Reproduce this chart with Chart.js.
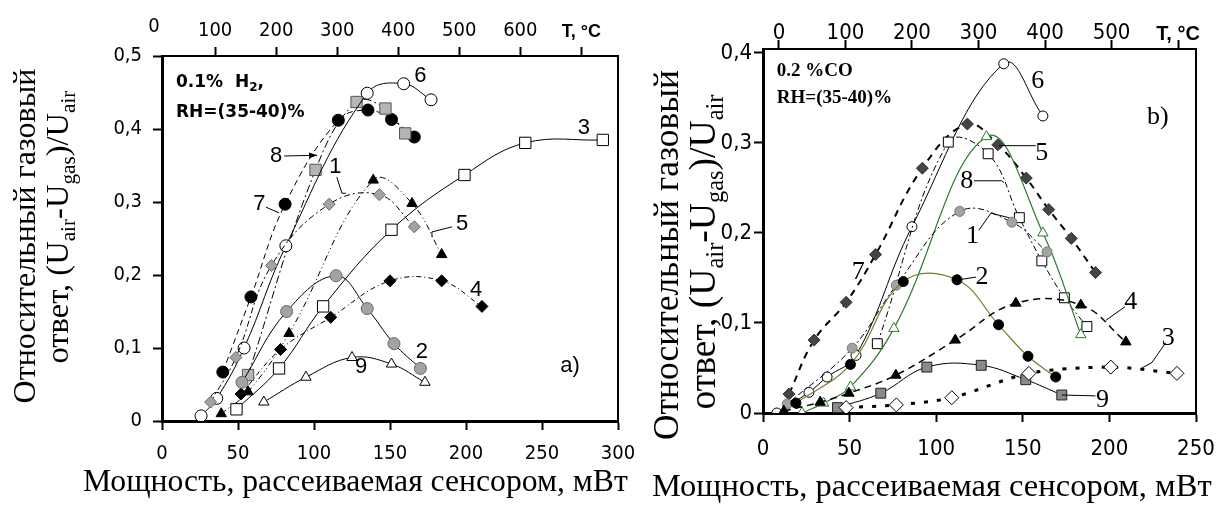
<!DOCTYPE html>
<html>
<head>
<meta charset="utf-8">
<script src="https://cdn.jsdelivr.net/npm/chart.js@4.4.1/dist/chart.umd.min.js"></script>
<style>
  body { margin: 0; background: #fff; width: 1222px; height: 507px; overflow: hidden; position: relative; }
  canvas { position: absolute; top: 0; }
  #panelA { left: 0; }
  #panelB { left: 600px; }
</style>
</head>
<body>
<canvas id="panelA" width="650" height="507"></canvas>
<canvas id="panelB" width="622" height="507"></canvas>
<script>
// ---------- panel a) 0.1% H2 : response vs dissipated power (mW) ----------
const aPowerTicks = [0, 50, 100, 150, 200, 250, 300];
const aRespTicks = [0, 0.1, 0.2, 0.3, 0.4, 0.5];
const aTempTicks = [100, 200, 300, 400, 500, 600, 700];   // 700 slot carries "T, °C"

const aCurve1 = [[32, 0.026], [48.6, 0.087], [72, 0.213], [110, 0.297], [143, 0.31], [166, 0.266]];
const aCurve2 = [[52.6, 0.053], [82, 0.15], [114.5, 0.199], [135, 0.154], [152.6, 0.106], [170, 0.072]];
const aCurve3 = [[49, 0.016], [77, 0.072], [106, 0.157], [151, 0.262], [199, 0.337], [239, 0.381], [290, 0.385]];
const aCurve4 = [[52, 0.037], [78, 0.098], [111, 0.142], [150, 0.192], [184, 0.192], [210.5, 0.157]];
const aCurve5 = [[39, 0.01], [56.6, 0.04], [83.6, 0.12], [139, 0.33], [164.5, 0.298], [184, 0.228]];
const aCurve6 = [[25.7, 0.007], [36, 0.031], [54, 0.1], [81.5, 0.24], [135, 0.449], [159, 0.462], [177, 0.44]];
const aCurve7 = [[40, 0.067], [58.5, 0.17], [81, 0.297], [116, 0.412], [135.5, 0.426], [151, 0.413], [166, 0.389]];
const aCurve8 = [[56.6, 0.063], [101, 0.344], [128, 0.437], [147, 0.428], [160, 0.394]];
const aCurve9 = [[67, 0.026], [94.7, 0.06], [125, 0.087], [151, 0.078], [173, 0.053]];

// ---------- panel b) 0.2% CO ----------
const bPowerTicks = [0, 50, 100, 150, 200, 250];
const bRespTicks = [0, 0.1, 0.2, 0.3, 0.4];
const bTempTicks = [0, 100, 200, 300, 400, 500, 600];     // 600 slot carries "T, °C"

const bCurve1 = [[14, 0.01], [51.5, 0.072], [77, 0.142], [113.6, 0.224], [143.7, 0.212], [164, 0.179]];
const bCurve2 = [[19, 0.011], [50.5, 0.054], [81, 0.146], [112, 0.148], [136, 0.098], [153, 0.063], [169, 0.04]];
const bCurve3 = [[48, 0.006], [77, 0.009], [109, 0.017], [153.5, 0.044], [200.8, 0.051], [239, 0.044]];
const bCurve4 = [[12, 0.002], [33, 0.012], [49.6, 0.022], [76.7, 0.042], [111, 0.081], [146, 0.122], [183.5, 0.12], [209.5, 0.079]];
const bCurve5 = [[22.5, 0], [35, 0.011], [50.5, 0.029], [75.6, 0.094], [129, 0.307], [161.6, 0.2], [183.5, 0.087]];
const bCurve6 = [[8, 0], [26.5, 0.023], [37, 0.04], [53.7, 0.064], [86, 0.207], [139, 0.388], [161.6, 0.33]];
const bCurve7 = [[15, 0.021], [29.5, 0.081], [48, 0.123], [65, 0.176], [92, 0.272], [118, 0.321], [135.6, 0.298], [152, 0.261], [165, 0.226], [178, 0.194], [192, 0.156]];
const bCurve8 = [[66, 0.077], [107, 0.301], [130, 0.288], [148, 0.217], [161, 0.169], [174, 0.128], [187, 0.096]];
const bCurve9 = [[43, 0.006], [68, 0.022], [94.6, 0.051], [126, 0.053], [151.7, 0.037], [172.5, 0.02]];

const SERIF = "'Liberation Serif', 'Times New Roman', serif";
const SANS = "'Liberation Sans', Arial, sans-serif";
const NARROW = "'Liberation Sans Narrow', 'DejaVu Sans Condensed', 'Liberation Sans', sans-serif";

const yTitle2 = [{ t: 'ответ, (U' }, { t: 'air', sub: true }, { t: '-U' }, { t: 'gas', sub: true }, { t: ')/U' }, { t: 'air', sub: true }];
const yTitle1 = [{ t: 'Относительный газовый' }];
const xTitle = [{ t: 'Мощность, рассеиваемая сенсором, мВт' }];

function pts(arr) { return arr.map(p => ({ x: p[0], y: p[1] })); }

function curve(data, style) {
  return Object.assign({
    data: pts(data), showLine: true, tension: 0.4, borderWidth: 1,
    borderColor: '#000', pointBorderColor: '#000', pointBorderWidth: 1, pointRadius: 5
  }, style);
}

function runsWidth(ctx, runs, size, family) {
  let w = 0;
  runs.forEach(r => { ctx.font = (r.sub ? size * 0.65 : size) + 'px ' + family; w += ctx.measureText(r.t).width; });
  return w;
}

// draw a text with subscripts so that it spans `len` pixels
function drawRuns(ctx, runs, len, family) {
  const size = 100 * len / runsWidth(ctx, runs, 100, family);
  ctx.textAlign = 'left';
  ctx.textBaseline = 'alphabetic';
  let x = 0;
  runs.forEach(r => {
    const s = r.sub ? size * 0.65 : size;
    ctx.font = s + 'px ' + family;
    ctx.fillText(r.t, x, r.sub ? size * 0.22 : 0);
    x += ctx.measureText(r.t).width;
  });
}

function decor(cfg) {
  return {
    id: 'decor',
    afterDraw(chart) {
      const { ctx, chartArea: a, scales } = chart;
      const X = v => scales.x.getPixelForValue(v);
      const Y = v => scales.y.getPixelForValue(v);
      ctx.save();
      ctx.fillStyle = '#000';
      ctx.strokeStyle = '#000';
      // right side of the frame
      ctx.lineWidth = 2;
      ctx.beginPath(); ctx.moveTo(a.right, a.top - 1); ctx.lineTo(a.right, a.bottom + 1); ctx.stroke();

      // leader lines from the curve numbers
      ctx.lineWidth = 1;
      cfg.leaders.forEach(l => {
        ctx.beginPath();
        l.pts.forEach((p, i) => i ? ctx.lineTo(X(p[0]), Y(p[1])) : ctx.moveTo(X(p[0]), Y(p[1])));
        ctx.stroke();
        if (l.arrow) {
          const p1 = l.pts[l.pts.length - 2], p2 = l.pts[l.pts.length - 1];
          const x2 = X(p2[0]), y2 = Y(p2[1]);
          const ang = Math.atan2(y2 - Y(p1[1]), x2 - X(p1[0]));
          ctx.beginPath();
          ctx.moveTo(x2, y2);
          ctx.lineTo(x2 - 8 * Math.cos(ang) + 3 * Math.sin(ang), y2 - 8 * Math.sin(ang) - 3 * Math.cos(ang));
          ctx.lineTo(x2 - 8 * Math.cos(ang) - 3 * Math.sin(ang), y2 - 8 * Math.sin(ang) + 3 * Math.cos(ang));
          ctx.closePath(); ctx.fill();
        }
      });

      // curve numbers and panel letter
      ctx.textAlign = 'center';
      ctx.textBaseline = 'middle';
      ctx.font = cfg.numFont;
      cfg.numbers.forEach(n => ctx.fillText(n.t, X(n.x), Y(n.y)));

      // gas / humidity note
      ctx.textAlign = 'left';
      ctx.textBaseline = 'alphabetic';
      cfg.notes.forEach(n => {
        let x = X(n.x);
        n.runs.forEach(r => {
          ctx.font = r.sub ? cfg.noteSubFont : cfg.noteFont;
          ctx.fillText(r.t, x, Y(n.y) + (r.sub ? 4 : 0));
          x += ctx.measureText(r.t).width;
        });
      });

      // "0" of the temperature axis when it lies left of the frame
      if (cfg.tempZero) {
        ctx.textAlign = 'center';
        ctx.textBaseline = 'middle';
        ctx.font = cfg.tickFont;
        ctx.fillText('0', scales.xt.getPixelForValue(0), cfg.tempZero);
      }

      // axis titles (serif, with subscripts)
      cfg.yTitles.forEach(t => {
        ctx.save();
        ctx.translate(t.base, t.center);
        ctx.rotate(-Math.PI / 2);
        ctx.translate(-t.len / 2, 0);
        drawRuns(ctx, t.runs, t.len, SERIF);
        ctx.restore();
      });
      ctx.save();
      ctx.translate(cfg.xTitle.start, cfg.xTitle.base);
      drawRuns(ctx, xTitle, cfg.xTitle.len, SERIF);
      ctx.restore();
      ctx.restore();
    }
  };
}

function makePanel(id, p) {
  const tickFont = { family: NARROW, size: p.tickSize };
  const lastTemp = p.tTicks[p.tTicks.length - 1];
  const axisGrid = { display: true, drawOnChartArea: false, drawTicks: true, tickLength: 9, tickWidth: 2, color: '#000' };
  // fixed axis sizes, no extra room for overhanging labels
  const fixH = h => s => { s.height = h; s.paddingLeft = 0; s.paddingRight = 0; };
  const fixW = w => s => { s.width = w; s.paddingTop = 0; s.paddingBottom = 0; };
  new Chart(document.getElementById(id), {
    type: 'scatter',
    data: { datasets: p.datasets },
    options: {
      responsive: false,
      animation: false,
      devicePixelRatio: 1,
      layout: { autoPadding: false, padding: { left: 0, right: p.padRight, top: 0, bottom: 0 } },
      plugins: { legend: { display: false }, tooltip: { enabled: false } },
      scales: {
        x: {
          type: 'linear', position: 'bottom', min: p.xMin, max: p.xMax,
          afterBuildTicks: s => { s.ticks = p.xTicks.map(v => ({ value: v })); },
          afterFit: fixH(p.bottomH),
          grid: axisGrid, border: { display: true, color: '#000', width: 3 },
          ticks: { color: '#000', font: tickFont, padding: p.xPad, maxRotation: 0, autoSkip: false }
        },
        xt: {
          type: 'linear', position: 'top', min: p.tMin, max: p.tMax,
          afterBuildTicks: s => { s.ticks = p.tTicks.map(v => ({ value: v })); },
          afterFit: fixH(p.topH),
          grid: axisGrid, border: { display: true, color: '#000', width: 2 },
          ticks: {
            color: '#000', padding: p.tPad, maxRotation: 0, autoSkip: false,
            font: c => (c.tick && c.tick.value === lastTemp)
              ? { family: SANS, size: p.tickSize - 2, weight: 'bold' } : tickFont,
            callback: v => v === lastTemp ? 'T, °C' : String(v)
          }
        },
        y: {
          type: 'linear', position: 'left', min: 0, max: p.yMax,
          afterBuildTicks: s => { s.ticks = p.yTicks.map(v => ({ value: v })); },
          afterFit: fixW(p.leftW),
          grid: axisGrid, border: { display: true, color: '#000', width: 3 },
          ticks: {
            color: '#000', font: tickFont, padding: p.yPad,
            callback: v => v === 0 ? '0' : v.toFixed(1).replace('.', ',')
          }
        }
      }
    },
    plugins: [decor(p.decor)]
  });
}

const GREY = '#a3a3a3';

makePanel('panelA', {
  xMin: 0, xMax: 300, xTicks: aPowerTicks,
  tMin: 13, tMax: 760, tTicks: aTempTicks,
  yMax: 0.5, yTicks: aRespTicks,
  leftW: 162, padRight: 32, topH: 56, bottomH: 86,
  tickSize: 20, xPad: 12, tPad: 4, yPad: 11,
  datasets: [
    curve(aCurve3, { pointStyle: 'rect', pointRadius: 8, pointBackgroundColor: '#fff' }),
    curve(aCurve9, { pointStyle: 'triangle', pointRadius: 6, pointBackgroundColor: '#fff' }),
    curve(aCurve2, { pointStyle: 'circle', pointRadius: 6, pointBackgroundColor: GREY, pointBorderColor: '#666' }),
    curve(aCurve4, { pointStyle: 'rectRot', pointRadius: 6, pointBackgroundColor: '#000', borderDash: [5, 3, 1, 3] }),
    curve(aCurve5, { pointStyle: 'triangle', pointRadius: 6, pointBackgroundColor: '#000', borderDash: [6, 3, 1, 3, 1, 3] }),
    curve(aCurve1, { pointStyle: 'rectRot', pointRadius: 6, pointBackgroundColor: GREY, pointBorderColor: '#666', borderDash: [6, 3, 2, 3] }),
    curve(aCurve6, { pointStyle: 'circle', pointRadius: 6, pointBackgroundColor: '#fff' }),
    curve(aCurve8, { pointStyle: 'rect', pointRadius: 8, pointBackgroundColor: '#b5b5b5', pointBorderColor: '#555', borderDash: [8, 3, 2, 3] }),
    curve(aCurve7, { pointStyle: 'circle', pointRadius: 6, pointBackgroundColor: '#000', borderDash: [6, 4] })
  ],
  decor: {
    numFont: '22px ' + SANS,
    noteFont: "bold 17px 'DejaVu Sans', sans-serif",
    noteSubFont: "bold 12px 'DejaVu Sans', sans-serif",
    tickFont: '20px ' + NARROW,
    tempZero: 27,
    numbers: [
      { t: '6', x: 170, y: 0.473 }, { t: '3', x: 277.6, y: 0.402 }, { t: '8', x: 75, y: 0.363 },
      { t: '7', x: 64, y: 0.297 }, { t: '1', x: 114, y: 0.348 }, { t: '5', x: 197.4, y: 0.27 },
      { t: '4', x: 206.6, y: 0.179 }, { t: '2', x: 171, y: 0.095 }, { t: '9', x: 131, y: 0.074 },
      { t: 'a)', x: 268.5, y: 0.075 }
    ],
    leaders: [
      { pts: [[80.3, 0.363], [102, 0.364]], arrow: true },
      { pts: [[68.4, 0.293], [77, 0.285]] },
      { pts: [[115, 0.334], [118.4, 0.312], [121, 0.312]] },
      { pts: [[190.8, 0.266], [177.6, 0.259], [177.6, 0.252]] }
    ],
    notes: [
      { x: 9.2, y: 0.457, runs: [{ t: '0.1%  H' }, { t: '2', sub: true }, { t: ',' }] },
      { x: 9.2, y: 0.416, runs: [{ t: 'RH=(35-40)%' }] }
    ],
    yTitles: [
      { runs: yTitle1, base: 35, center: 236, len: 335 },
      { runs: yTitle2, base: 68, center: 227, len: 273 }
    ],
    xTitle: { start: 83, base: 491, len: 545 }
  }
});

makePanel('panelB', {
  xMin: 0, xMax: 250, xTicks: bPowerTicks,
  tMin: -24, tMax: 627, tTicks: bTempTicks,
  yMax: 0.4044, yTicks: bRespTicks,
  leftW: 163, padRight: 26, topH: 49, bottomH: 94,
  tickSize: 22, xPad: 14, tPad: -6, yPad: 2,
  datasets: [
    curve(bCurve3, { pointStyle: 'rectRot', pointRadius: 7, pointBackgroundColor: '#fff', borderWidth: 3, borderDash: [4, 9], tension: 0.3 }),
    curve(bCurve9, { pointStyle: 'rect', pointRadius: 7, pointBackgroundColor: '#8a8a8a', pointBorderColor: '#222' }),
    curve(bCurve4, { pointStyle: 'triangle', pointRadius: 6, pointBackgroundColor: '#000', borderWidth: 1.5, borderDash: [7, 5] }),
    curve(bCurve2, { pointStyle: 'circle', pointRadius: 5, pointBackgroundColor: '#000', borderColor: '#7d7a35', borderWidth: 1.2 }),
    curve(bCurve1, { pointStyle: 'circle', pointRadius: 5, pointBackgroundColor: GREY, pointBorderColor: '#777', borderDash: [6, 3, 2, 3] }),
    curve(bCurve5, { pointStyle: 'triangle', pointRadius: 6, pointBackgroundColor: '#fff', pointBorderColor: '#2d7a2d', borderColor: '#2d7a2d', borderWidth: 1.2 }),
    curve(bCurve8, { pointStyle: 'rect', pointRadius: 7, pointBackgroundColor: '#fff', borderDash: [6, 3, 2, 3] }),
    curve(bCurve6, { pointStyle: 'circle', pointRadius: 5, pointBackgroundColor: '#fff' }),
    curve(bCurve7, { pointStyle: 'rectRot', pointRadius: 6, pointBackgroundColor: '#444', pointBorderColor: '#333', borderWidth: 2, borderDash: [7, 6] })
  ],
  decor: {
    numFont: '26px ' + SERIF,
    noteFont: 'bold 19px ' + SERIF,
    noteSubFont: 'bold 13px ' + SERIF,
    tickFont: '22px ' + NARROW,
    tempZero: 0,
    numbers: [
      { t: '6', x: 158.7, y: 0.369 }, { t: 'b)', x: 228, y: 0.329 }, { t: '5', x: 161, y: 0.289 },
      { t: '8', x: 117.7, y: 0.258 }, { t: '1', x: 121, y: 0.197 }, { t: '7', x: 55, y: 0.156 },
      { t: '2', x: 126.4, y: 0.151 }, { t: '4', x: 212.3, y: 0.123 }, { t: '3', x: 234, y: 0.083 },
      { t: '9', x: 196, y: 0.0144 }
    ],
    leaders: [
      { pts: [[136.2, 0.297], [157.5, 0.297]] },
      { pts: [[121.8, 0.258], [137.9, 0.258], [139, 0.256]] },
      { pts: [[124.6, 0.203], [131.6, 0.222], [142, 0.217]] },
      { pts: [[113, 0.148], [123, 0.151]] },
      { pts: [[198, 0.103], [209, 0.118]] },
      { pts: [[232.5, 0.078], [224.5, 0.056], [218.7, 0.05]] },
      { pts: [[172.5, 0.02], [192, 0.019]] }
    ],
    notes: [
      { x: 8, y: 0.374, runs: [{ t: '0.2 %CO' }] },
      { x: 8, y: 0.344, runs: [{ t: 'RH=(35-40)%' }] }
    ],
    yTitles: [
      { runs: yTitle1, base: 78, center: 255, len: 370 },
      { runs: yTitle2, base: 115, center: 252, len: 315 }
    ],
    xTitle: { start: 52, base: 496, len: 560 }
  }
});
</script>
</body>
</html>
